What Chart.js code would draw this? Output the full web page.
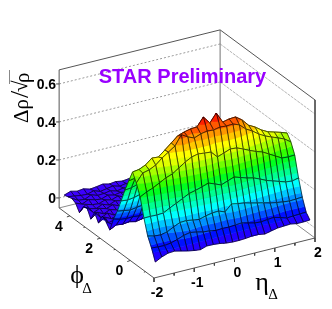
<!DOCTYPE html>
<html>
<head>
<meta charset="utf-8">
<style>
  html, body { margin: 0; padding: 0; background: #fff; }
  #c { display: block; }
</style>
<script src="https://cdn.jsdelivr.net/npm/chart.js@4/dist/chart.umd.min.js"></script>
</head>
<body>
<canvas id="c" width="332" height="309"></canvas>
<script>
// bin centres
const etaBins = [-1.92,-1.76,-1.6,-1.44,-1.28,-1.12,-0.96,-0.8,-0.64,-0.48,-0.32,-0.16,0,0.16,0.32,0.48,0.64,0.8,0.96,1.12,1.28,1.44,1.6,1.76,1.92];
const phiBins = [-1.445,-1.194,-0.942,-0.691,-0.44,-0.188,0.063,0.314,0.565,0.817,1.068,1.319,1.571,1.822,2.073,2.325,2.576,2.827,3.079,3.33,3.581,3.833,4.084,4.335,4.587];

// delta rho / sqrt(rho), one row per phi bin
const dRho = [
  [.020,.038,.050,.052,.044,.036,.030,.026,.037,.036,.033,.027,.024,.024,.026,.030,.030,.024,.032,.039,.041,.043,.037,.037,.039],
  [.079,.076,.075,.080,.090,.103,.110,.104,.096,.093,.087,.089,.088,.090,.093,.084,.076,.073,.077,.080,.071,.060,.062,.064,.066],
  [.127,.119,.116,.123,.141,.156,.158,.152,.147,.157,.164,.166,.153,.186,.180,.175,.166,.158,.150,.141,.135,.130,.126,.128,.130],
  [.207,.207,.206,.208,.226,.242,.259,.277,.285,.295,.307,.294,.280,.293,.305,.294,.283,.275,.261,.245,.234,.223,.212,.208,.216],
  [.303,.321,.334,.352,.370,.382,.405,.428,.446,.454,.450,.447,.413,.425,.438,.435,.421,.405,.391,.380,.361,.342,.323,.320,.322],
  [.362,.406,.414,.431,.460,.483,.506,.557,.537,.523,.536,.543,.540,.547,.544,.546,.533,.503,.484,.460,.441,.427,.414,.400,.376],
  [.405,.410,.425,.453,.450,.478,.507,.536,.548,.556,.558,.602,.562,.606,.550,.558,.560,.536,.500,.482,.458,.440,.430,.420,.408],
  [.344,.350,.365,.385,.400,.425,.450,.480,.495,.505,.510,.525,.515,.520,.505,.510,.510,.490,.460,.440,.420,.400,.395,.380,.365],
  [.281,.285,.295,.310,.325,.345,.365,.385,.395,.405,.410,.415,.405,.410,.400,.405,.400,.385,.365,.345,.330,.315,.305,.295,.285],
  [.209,.205,.210,.220,.230,.240,.250,.262,.270,.275,.280,.285,.280,.275,.270,.272,.268,.258,.245,.232,.220,.210,.200,.195,.190],
  [.141,.135,.130,.135,.140,.145,.150,.155,.160,.165,.168,.165,.160,.162,.158,.160,.155,.150,.142,.135,.130,.122,.118,.115,.112],
  [.085,.075,.070,.072,.068,.075,.080,.082,.078,.085,.088,.082,.080,.085,.078,.080,.075,.072,.068,.070,.065,.060,.062,.058,.060],
  [.012,.030,.025,.030,.022,.028,.035,.032,.030,.035,.028,.032,.036,.030,.028,.034,.030,.026,.024,.030,.028,.022,.026,.024,.020],
  [.040,.018,.026,.012,.024,.016,.022,.028,.018,.024,.020,.026,.016,.022,.018,.024,.020,.016,.022,.018,.024,.020,.014,.018,.016],
  [.055,.012,.020,.008,.018,.010,.016,.022,.012,.020,.014,.018,.024,.012,.020,.016,.012,.018,.014,.020,.012,.016,.018,.010,.014],
  [.005,.026,.010,.020,.008,.022,.012,.018,.024,.010,.020,.012,.016,.022,.014,.010,.018,.012,.016,.010,.018,.014,.010,.016,.012],
  [.045,.008,.024,.006,.018,.012,.024,.010,.016,.022,.008,.018,.012,.010,.020,.014,.008,.016,.012,.018,.010,.012,.016,.008,.014],
  [-.005,.022,.006,.020,.010,.018,.006,.022,.010,.014,.020,.008,.016,.012,.008,.018,.012,.010,.014,.008,.016,.010,.012,.014,.010],
  [.040,.006,.020,.010,.022,.008,.016,.012,.020,.008,.016,.012,.006,.018,.012,.010,.016,.008,.012,.016,.010,.014,.008,.012,.016],
  [.030,.012,.004,.018,.006,.020,.012,.018,.008,.020,.010,.016,.012,.008,.016,.012,.006,.014,.010,.008,.014,.010,.012,.008,.010],
  [-.015,.020,.010,.006,.018,.010,.022,.008,.016,.012,.018,.006,.014,.016,.010,.008,.016,.010,.012,.014,.008,.012,.010,.014,.010],
  [.020,.006,.022,.012,.008,.020,.012,.018,.010,.016,.008,.014,.010,.012,.018,.010,.012,.014,.008,.012,.014,.010,.012,.010,.012],
  [.030,.012,.008,.024,.012,.014,.020,.010,.018,.012,.016,.010,.016,.008,.012,.016,.010,.008,.014,.010,.012,.014,.008,.012,.010],
  [.024,.020,.014,.012,.022,.010,.016,.022,.012,.018,.014,.012,.010,.016,.012,.010,.014,.012,.010,.014,.010,.012,.014,.010,.012],
  [.018,.030,.022,.026,.016,.020,.026,.018,.022,.016,.020,.024,.018,.014,.020,.016,.018,.014,.016,.018,.014,.016,.012,.014,.014]
];

const etaTicks = [-2,-1,0,1,2];
const etaMinor = [-1.5,-0.5,0.5,1.5];
const phiTicks = [0,2,4];
const phiMinor = [-1,1,3];
const zTicks = [0,0.2,0.4,0.6];

// colour bands of the surface
const zLevels = [-0.03,0,0.03,0.06,0.09,0.12,0.15,0.18,0.21,0.24,0.27,0.30,0.33,0.36,0.39,0.42,0.45,0.48,0.51,0.54,0.57,0.60];
const bandColors = ['#5500ff','#3c00ff','#2000ff','#0010ff','#0050ff','#0090ff','#00c8ff','#00ffff','#00ffc8','#00ff90','#00ff58','#00ff20','#30ff00','#70ff00','#a8ff00','#e0ff00','#ffff00','#ffc800','#ff9800','#ff5800','#ff2000','#ff0000'];

const etaMin = -2, etaMax = 2, phiMin = -1.571, phiMax = 4.712, zMin = -0.0526, zMax = 0.674;

// fixed parallel projection of the ROOT lego box onto the page
function project(eta, phi, z) {
  return {
    x: 154 + 40.25 * (eta - etaMin) - 15.1 * (phi - phiMin),
    y: 278 - 10 * (eta - etaMin) - 11.15 * (phi - phiMin) - 190 * (z - zMin),
  };
}

function lineSet(points, color, width, dash) {
  return { data: points, borderColor: color, borderWidth: width, borderDash: dash || [], fill: false, pointRadius: 0, tension: 0 };
}

// keep the part of a polygon (points carrying z) between two z levels
function clipAt(poly, level, above) {
  const out = [];
  for (let i = 0; i < poly.length; i++) {
    const a = poly[i], b = poly[(i + 1) % poly.length];
    const aIn = above ? a.z >= level : a.z <= level;
    const bIn = above ? b.z >= level : b.z <= level;
    if (aIn) out.push(a);
    if (aIn !== bIn) {
      const t = (level - a.z) / (b.z - a.z);
      out.push({ x: a.x + (b.x - a.x) * t, y: a.y + (b.y - a.y) * t, z: level });
    }
  }
  return out;
}

function surfaceSets() {
  const sets = [];
  const vert = (r, c) => {
    const z = dRho[r][c];
    const p = project(etaBins[c], phiBins[r], z);
    return { x: p.x, y: p.y, z };
  };
  // far corner first, painter's order
  for (let r = phiBins.length - 2; r >= 0; r--) {
    for (let c = etaBins.length - 2; c >= 0; c--) {
      const quad = [vert(r, c), vert(r, c + 1), vert(r + 1, c + 1), vert(r + 1, c)];
      for (let b = 0; b < bandColors.length; b++) {
        let poly = b === 0 ? quad : clipAt(quad, zLevels[b], true);
        if (b < bandColors.length - 1) poly = clipAt(poly, zLevels[b + 1], false);
        if (poly.length < 3) continue;
        sets.push({
          data: poly.concat([poly[0]]), backgroundColor: bandColors[b], borderColor: bandColors[b],
          borderWidth: 0.6, fill: 'shape', pointRadius: 0, tension: 0,
        });
      }
      sets.push(lineSet(quad.concat([quad[0]]), 'rgba(0,0,0,0.8)', 0.8));
    }
  }
  return sets;
}

function boxSets() {
  const sets = [];
  const L = (z) => project(etaMin, phiMax, z), B = (z) => project(etaMax, phiMax, z);
  const R = (z) => project(etaMax, phiMin, z), F = (z) => project(etaMin, phiMin, z);
  zTicks.forEach(z => {
    sets.push(lineSet([L(z), B(z)], '#9a9a9a', 1, [2, 2]));
    sets.push(lineSet([B(z), R(z)], '#b4b4b4', 1, [3, 1]));
  });
  sets.push(lineSet([L(zMin), B(zMin), R(zMin)], '#8c8c8c', 1));
  sets.push(lineSet([B(zMin), B(zMax)], '#8a8a8a', 1.2));
  sets.push(lineSet([L(zMin), L(zMax), B(zMax), R(zMax), R(zMin)], '#555', 1));
  sets.push(lineSet([L(zMin), F(zMin), R(zMin)], '#555', 1));
  zTicks.forEach(z => {
    const p = L(z);
    sets.push(lineSet([p, { x: p.x - 3, y: p.y }], '#444', 1));
  });
  etaTicks.concat(etaMinor).forEach(e => {
    const p = project(e, phiMin, zMin), len = etaMinor.includes(e) ? 2.5 : 4;
    sets.push(lineSet([p, { x: p.x, y: p.y + len }], '#444', 1));
  });
  phiTicks.concat(phiMinor).forEach(f => {
    const p = project(etaMin, f, zMin), len = phiMinor.includes(f) ? 1.5 : 3;
    sets.push(lineSet([p, { x: p.x - len, y: p.y + len * 0.35 }], '#444', 1));
  });
  return sets;
}

const textPlugin = {
  id: 'boxText',
  afterDraw(chart) {
    const ctx = chart.ctx, sx = chart.scales.x, sy = chart.scales.y;
    const put = (txt, x, y, font, color, align) => {
      ctx.font = font;
      ctx.fillStyle = color || '#000';
      ctx.textAlign = align || 'center';
      ctx.textBaseline = 'middle';
      ctx.fillText(txt, sx.getPixelForValue(x), sy.getPixelForValue(y));
    };
    const bold = "bold 14px 'Liberation Sans', Arial, sans-serif";
    ctx.save();
    zTicks.forEach(z => {
      const p = project(etaMin, phiMax, z);
      put(String(z), p.x - 3, p.y + 1.5, bold, '#000', 'right');
    });
    etaTicks.forEach(e => {
      const p = project(e, phiMin, zMin);
      put(String(e), p.x + 3, p.y + 15.5, bold);
    });
    phiTicks.forEach(f => {
      const p = project(etaMin, f, zMin);
      put(String(f), p.x - 11, p.y + 11, bold);
    });
    put('STAR Preliminary', 182.5, 77.5, "bold 20px 'Liberation Sans', Arial, sans-serif", '#9900ff');

    const serif = "26px 'Liberation Serif', 'DejaVu Serif', serif", sub = "15px 'Liberation Serif', serif";
    put('\u03d5', 77, 276, serif);
    put('\u0394', 87, 289, sub);
    put('\u03b7', 262, 283, serif);
    put('\u0394', 273, 295, sub);

    // z title, rotated
    ctx.translate(22, 95);
    ctx.rotate(-Math.PI / 2);
    ctx.textAlign = 'left';
    ctx.textBaseline = 'middle';
    ctx.fillStyle = '#000';
    ctx.font = "21px 'Liberation Serif', serif";
    ctx.fillText('\u0394\u03c1', -28, 0);
    ctx.font = "26px 'Liberation Serif', serif";
    ctx.fillText('/', -3, -1);
    ctx.font = "21px 'Liberation Serif', serif";
    ctx.fillText('\u221a', 3, -1);
    ctx.fillText('\u03c1', 12, 1);
    ctx.strokeStyle = '#888';
    ctx.lineWidth = 1;
    ctx.beginPath();
    ctx.moveTo(11, -12.5);
    ctx.lineTo(25, -12.5);
    ctx.stroke();
    ctx.restore();
  },
};

// chart.js paints the first dataset last
const datasets = boxSets().concat(surfaceSets()).reverse();

new Chart(document.getElementById('c'), {
  type: 'line',
  data: { datasets },
  options: {
    responsive: false,
    animation: false,
    events: [],
    layout: { padding: 0 },
    plugins: { legend: { display: false }, tooltip: { enabled: false } },
    scales: {
      x: { type: 'linear', min: 0, max: 332, display: false },
      y: { type: 'linear', min: 0, max: 309, reverse: true, display: false },
    },
  },
  plugins: [textPlugin],
});
</script>
</body>
</html>
